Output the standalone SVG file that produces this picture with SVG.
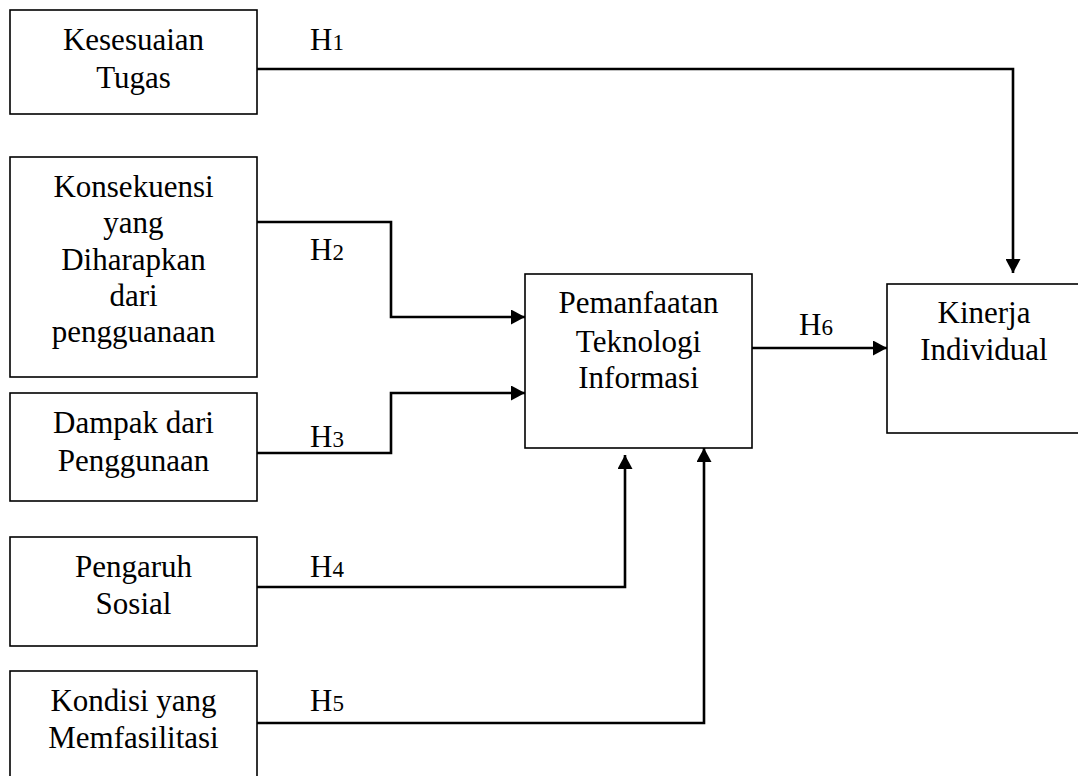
<svg xmlns="http://www.w3.org/2000/svg" width="1078" height="776" viewBox="0 0 1078 776">
<style>
.box{fill:#fff;stroke:#000;stroke-width:1.6}
.t{font-family:"Liberation Serif","Times New Roman",serif;font-size:31px;fill:#000;text-anchor:middle}
.h{font-family:"Liberation Serif","Times New Roman",serif;font-size:31px;fill:#000}
.h tspan{font-size:23px}
.c{fill:none;stroke:#000;stroke-width:2.6}
</style>
<defs>
<marker id="arr" markerUnits="userSpaceOnUse" markerWidth="14" markerHeight="15" refX="14" refY="7.5" orient="auto">
<path d="M0,0 L14,7.5 L0,15 z" fill="#000"/>
</marker>
</defs>
<rect width="1078" height="776" fill="#fff"/>
<g id="connectors">
<path class="c" d="M257,69 H1013 V273" marker-end="url(#arr)"/>
<path class="c" d="M257,222 H391 V317 H525" marker-end="url(#arr)"/>
<path class="c" d="M257,453 H391 V393 H525" marker-end="url(#arr)"/>
<path class="c" d="M257,587 H625 V455" marker-end="url(#arr)"/>
<path class="c" d="M257,723 H704 V448" marker-end="url(#arr)"/>
<path class="c" d="M752,348 H887" marker-end="url(#arr)"/>
<text class="h" x="310" y="50">H<tspan>1</tspan></text>
<text class="h" x="310" y="260">H<tspan>2</tspan></text>
<text class="h" x="310" y="447">H<tspan>3</tspan></text>
<text class="h" x="310" y="577">H<tspan>4</tspan></text>
<text class="h" x="310" y="711">H<tspan>5</tspan></text>
<text class="h" x="799" y="335">H<tspan>6</tspan></text>
</g>
<g id="kesesuaian">
<rect class="box" x="10" y="10" width="247" height="104"/>
<text class="t" x="133.5" y="50">Kesesuaian</text>
<text class="t" x="133.5" y="88">Tugas</text>
</g>
<g id="konsekuensi">
<rect class="box" x="10" y="157" width="247" height="220"/>
<text class="t" x="133.5" y="197">Konsekuensi</text>
<text class="t" x="133.5" y="233">yang</text>
<text class="t" x="133.5" y="270">Diharapkan</text>
<text class="t" x="133.5" y="306">dari</text>
<text class="t" x="133.5" y="342">pengguanaan</text>
</g>
<g id="dampak">
<rect class="box" x="10" y="393" width="247" height="108"/>
<text class="t" x="133.5" y="433">Dampak dari</text>
<text class="t" x="133.5" y="471">Penggunaan</text>
</g>
<g id="pengaruh">
<rect class="box" x="10" y="537" width="247" height="109"/>
<text class="t" x="133.5" y="577">Pengaruh</text>
<text class="t" x="133.5" y="614">Sosial</text>
</g>
<g id="kondisi">
<rect class="box" x="10" y="671" width="247" height="120"/>
<text class="t" x="133.5" y="711">Kondisi yang</text>
<text class="t" x="133.5" y="748">Memfasilitasi</text>
</g>
<g id="pemanfaatan">
<rect class="box" x="525" y="274" width="227" height="174"/>
<text class="t" x="638.5" y="313">Pemanfaatan</text>
<text class="t" x="638.5" y="352">Teknologi</text>
<text class="t" x="638.5" y="388">Informasi</text>
</g>
<g id="kinerja">
<rect class="box" x="887" y="284" width="195" height="149"/>
<text class="t" x="984" y="323">Kinerja</text>
<text class="t" x="984" y="360">Individual</text>
</g>
</svg>
